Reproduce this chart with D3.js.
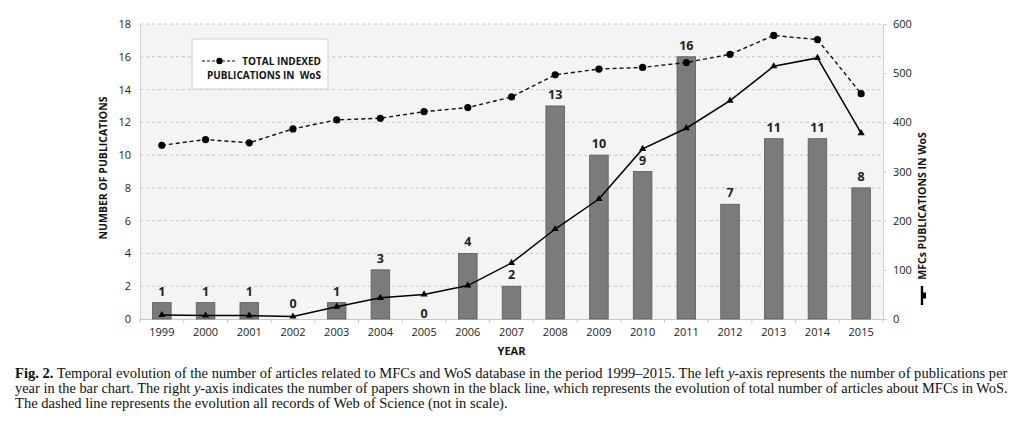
<!DOCTYPE html>
<html><head><meta charset="utf-8">
<script src="https://cdn.jsdelivr.net/npm/d3@7"></script>
<style>body{margin:0;background:#fff}svg{display:block}</style>
</head><body>
<svg id="c" width="1024" height="444"></svg>
<script>
const years = ["1999","2000","2001","2002","2003","2004","2005","2006","2007","2008","2009","2010","2011","2012","2013","2014","2015"];
const barValues = [1,1,1,0,1,3,0,4,2,13,10,9,16,7,11,11,8];
const mfcTotal = [8,7,7,5,25,43,50,68,114,183,244,346,388,444,514,531,378];
const wosIndex = [10.6,10.95,10.75,11.6,12.15,12.25,12.65,12.9,13.55,14.9,15.25,15.35,15.65,16.15,17.3,17.05,13.75];
const leftTicks = [0,2,4,6,8,10,12,14,16,18];
const rightTicks = [0,100,200,300,400,500,600];
const captionLines = [
 ["Fig. 2.", " Temporal evolution of the number of articles related to MFCs and WoS database in the period 1999–2015. The left ", "y", "-axis represents the number of publications per"],
 ["", "year in the bar chart. The right ", "y", "-axis indicates the number of papers shown in the black line, which represents the evolution of total number of articles about MFCs in WoS."],
 ["", "The dashed line represents the evolution all records of Web of Science (not in scale).", "", ""]
];

const svg = d3.select("#c");
const L = 140, R = 883, T = 24, B = 319;
const font = "'Open Sans', sans-serif";
const x = d3.scaleBand().domain(years).range([L, R]).paddingInner(0.575).paddingOuter(0.2875);
const xc = d => x(d) + x.bandwidth()/2;
const yL = d3.scaleLinear().domain([0,18]).range([B, T]);
const yR = d3.scaleLinear().domain([0,600]).range([B, T]);

svg.append("rect").attr("x", L).attr("y", T).attr("width", R-L).attr("height", B-T).attr("fill", "#f4f4f4");

// gridlines
svg.append("g").selectAll("line").data(leftTicks.filter(d=>d>0)).join("line")
  .attr("x1", L).attr("x2", R).attr("y1", d=>yL(d)).attr("y2", d=>yL(d))
  .attr("stroke", "#c8c8c8").attr("stroke-dasharray", "3,3").attr("stroke-width", 1);

// left axis
const gl = svg.append("g").attr("transform", `translate(${L},0)`)
  .call(d3.axisLeft(yL).tickValues(leftTicks).tickSize(0).tickPadding(9));
gl.select(".domain").attr("stroke", "#d0d0d0");
gl.selectAll("text").attr("font-family", font).attr("font-size", 11).attr("fill", "#222");

// right axis
const gr = svg.append("g").attr("transform", `translate(${R},0)`)
  .call(d3.axisRight(yR).tickValues(rightTicks).tickSize(4).tickPadding(6));
gr.select(".domain").attr("stroke", "#d0d0d0");
gr.selectAll(".tick line").attr("stroke", "#d0d0d0");
gr.selectAll("text").attr("font-family", font).attr("font-size", 11).attr("fill", "#222");

// bottom axis
const gb = svg.append("g").attr("transform", `translate(0,${B})`)
  .call(d3.axisBottom(x).tickSize(0).tickPadding(9));
gb.select(".domain").attr("stroke", "#c8c8c8");
gb.selectAll("text").attr("font-family", font).attr("font-size", 11).attr("fill", "#222");
const step = x.step();
gb.append("g").selectAll("line").data(years.concat(["end"])).join("line")
  .attr("x1", (d,i)=> L + i*step).attr("x2", (d,i)=> L + i*step)
  .attr("y1", 0).attr("y2", 4).attr("stroke", "#c8c8c8");

// bars
svg.append("g").selectAll("rect").data(years).join("rect")
  .attr("x", d=>x(d)).attr("width", x.bandwidth())
  .attr("y", (d,i)=>yL(barValues[i])).attr("height", (d,i)=>B - yL(barValues[i]))
  .attr("fill", "#7b7b7b").attr("stroke", "#5a5a5a").attr("stroke-width", 0.8);

// bar labels
svg.append("g").selectAll("text").data(years).join("text")
  .attr("x", d=>xc(d))
  .attr("y", (d,i)=> barValues[i] === 0 ? (i === 3 ? 308 : 318) : yL(barValues[i]) - 7)
  .attr("text-anchor", "middle").attr("font-family", font).attr("font-weight", "bold")
  .attr("font-size", 12.5).attr("fill", "#222").text((d,i)=>barValues[i]);

// dashed WoS line
const lineW = d3.line().x((d,i)=>xc(years[i])).y(d=>yL(d));
svg.append("path").datum(wosIndex).attr("d", lineW).attr("fill", "none")
  .attr("stroke", "#111").attr("stroke-width", 1.4).attr("stroke-dasharray", "4,3");
svg.append("g").selectAll("circle").data(wosIndex).join("circle")
  .attr("cx", (d,i)=>xc(years[i])).attr("cy", d=>yL(d)).attr("r", 3.6).attr("fill", "#000");

// MFC line
const lineM = d3.line().x((d,i)=>xc(years[i])).y(d=>yR(d));
svg.append("path").datum(mfcTotal).attr("d", lineM).attr("fill", "none")
  .attr("stroke", "#000").attr("stroke-width", 1.5);
const tri = d3.symbol().type(d3.symbolTriangle).size(22);
svg.append("g").selectAll("path").data(mfcTotal).join("path")
  .attr("transform", (d,i)=>`translate(${xc(years[i])},${yR(d)})`).attr("d", tri).attr("fill", "#000");

// legend
svg.append("rect").attr("x", 192).attr("y", 39).attr("width", 136).attr("height", 50)
  .attr("fill", "#fff").attr("stroke", "#d0d0d0");
svg.append("line").attr("x1", 202).attr("x2", 237).attr("y1", 61).attr("y2", 61)
  .attr("stroke", "#111").attr("stroke-width", 1.2).attr("stroke-dasharray", "3,2");
svg.append("circle").attr("cx", 219.5).attr("cy", 61).attr("r", 3.2).attr("fill", "#000");
svg.append("text").attr("x", 321).attr("y", 65).attr("text-anchor", "end").attr("font-family", font)
  .attr("font-weight", "bold").attr("font-size", 10).attr("fill", "#111").text("TOTAL INDEXED");
svg.append("text").attr("x", 321).attr("y", 79).attr("text-anchor", "end").attr("font-family", font)
  .attr("font-weight", "bold").attr("font-size", 10).attr("fill", "#111").attr("xml:space", "preserve").text("PUBLICATIONS IN  WoS");

// axis titles
svg.append("text").attr("transform", "translate(107,168) rotate(-90)").attr("text-anchor", "middle")
  .attr("font-family", font).attr("font-weight", "bold").attr("font-size", 10.5).attr("fill", "#111")
  .text("NUMBER OF PUBLICATIONS");
svg.append("text").attr("transform", "translate(926,206) rotate(-90)").attr("text-anchor", "middle")
  .attr("font-family", font).attr("font-weight", "bold").attr("font-size", 10.5).attr("fill", "#111")
  .text("MFCs PUBLICATIONS IN WoS");
svg.append("text").attr("x", (L+R)/2).attr("y", 355).attr("text-anchor", "middle")
  .attr("font-family", font).attr("font-weight", "bold").attr("font-size", 11).attr("fill", "#111")
  .text("YEAR");

// rotated legend symbol for MFC line
svg.append("line").attr("x1", 922).attr("x2", 922).attr("y1", 286).attr("y2", 305)
  .attr("stroke", "#000").attr("stroke-width", 2.4);
svg.append("rect").attr("x", 921).attr("y", 292.5).attr("width", 5).attr("height", 6).attr("fill", "#000");

// caption: size each line so its natural width fills the target width
const capY = [378, 393, 408];
const capTarget = 994;
let baseSize = 13;
captionLines.forEach((ln, k) => {
  const t = svg.append("text").attr("x", 15).attr("y", capY[k])
    .attr("font-family", "'Liberation Serif', serif").attr("font-size", 13).attr("fill", "#111");
  if (ln[0]) t.append("tspan").attr("font-weight", "bold").text(ln[0]);
  if (ln[1]) t.append("tspan").text(ln[1]);
  if (ln[2]) t.append("tspan").attr("font-style", "italic").text(ln[2]);
  if (ln[3]) t.append("tspan").text(ln[3]);
  if (k < 2) {
    const w = t.node().getComputedTextLength();
    const s = 13 * capTarget / w;
    if (k === 0) baseSize = s;
    t.attr("font-size", s);
  } else {
    t.attr("font-size", baseSize);
  }
});
</script>
</body></html>
